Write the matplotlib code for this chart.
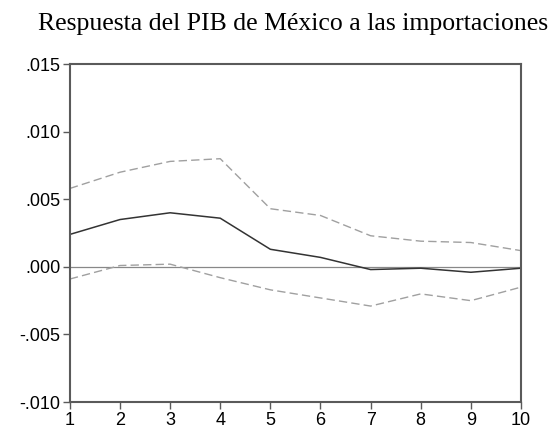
import matplotlib
matplotlib.use('Agg')
import matplotlib.pyplot as plt
from matplotlib.ticker import FuncFormatter

# periodos de la respuesta impulso
periodos = [1, 2, 3, 4, 5, 6, 7, 8, 9, 10]
respuesta = [0.0024, 0.0035, 0.0040, 0.0036, 0.0013, 0.0007, -0.0002, -0.0001, -0.0004, -0.0001]
banda_sup = [0.0058, 0.0070, 0.0078, 0.0080, 0.0043, 0.0038, 0.0023, 0.0019, 0.0018, 0.0012]
banda_inf = [-0.0009, 0.0001, 0.0002, -0.0008, -0.0017, -0.0023, -0.0029, -0.0020, -0.0025, -0.0015]

yticks = [-0.010, -0.005, 0.000, 0.005, 0.010, 0.015]

def fmt(v, pos):
    s = f'{v:.3f}'
    return s.replace('0.', '.', 1)

fig = plt.figure(figsize=(5.59, 4.30), dpi=100)
ax = fig.add_axes([0.125, 0.065, 0.807, 0.786])

ax.axhline(0, color='#888888', lw=0.9)
ax.plot(periodos, banda_sup, color='#a0a0a0', lw=1.0, ls=(0, (6, 3)))
ax.plot(periodos, banda_inf, color='#a0a0a0', lw=1.0, ls=(0, (6, 3)))
ax.plot(periodos, respuesta, color='#333333', lw=1.1)

ax.set_xlim(1, 10)
ax.set_ylim(-0.010, 0.015)
ax.set_xticks(periodos)
ax.set_yticks(yticks)
ax.yaxis.set_major_formatter(FuncFormatter(fmt))

for s in ax.spines.values():
    s.set_color('#5a5a5a')
    s.set_linewidth(1.5)

ax.tick_params(direction='out', length=5, width=1, color='#5a5a5a',
               labelsize=13, pad=2)
for lab in ax.get_xticklabels() + ax.get_yticklabels():
    lab.set_family('Liberation Sans')

fig.text(0.525, 0.945, 'Respuesta del PIB de México a las importaciones',
         ha='center', va='center', family='Liberation Serif', fontsize=18.5)

fig.savefig('out.png', dpi=100)
